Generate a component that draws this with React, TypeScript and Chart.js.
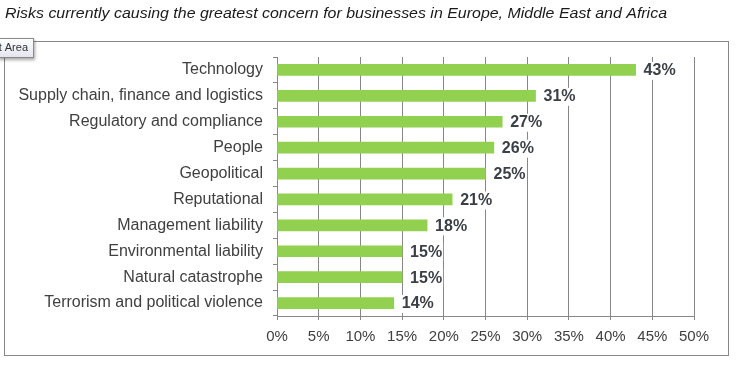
import React, { useEffect, useRef } from "react";
import { Chart, registerables } from "chart.js";

Chart.register(...registerables);

const titleText =
  "Risks currently causing the greatest concern for businesses in Europe, Middle East and Africa";
const categories = [
  "Technology",
  "Supply chain, finance and logistics",
  "Regulatory and compliance",
  "People",
  "Geopolitical",
  "Reputational",
  "Management liability",
  "Environmental liability",
  "Natural catastrophe",
  "Terrorism and political violence",
];
const values = [43, 31, 27, 26, 25, 21, 18, 15, 15, 14];
const xMin = 0;
const xMax = 50;
const xStep = 5;

const FONT = "Arial, 'Liberation Sans', sans-serif";
const GRID = "#878787";
const TEXT = "#404040";

const decorPlugin = {
  id: "decor",
  beforeDraw(chart: any) {
    const ctx = chart.ctx;
    ctx.save();
    ctx.fillStyle = "#ffffff";
    ctx.fillRect(0, 0, chart.width, chart.height);
    // title
    ctx.fillStyle = "#1a1a1a";
    ctx.font = `italic 15px ${FONT}`;
    ctx.textBaseline = "middle";
    ctx.textAlign = "left";
    const w = ctx.measureText(titleText).width;
    const target = 662;
    ctx.translate(5, 14);
    ctx.scale(target / w, 1);
    ctx.fillText(titleText, 0, 0);
    ctx.restore();
    // outer border
    ctx.save();
    ctx.strokeStyle = GRID;
    ctx.lineWidth = 1;
    ctx.strokeRect(4.5, 41.5, 724, 314);
    ctx.restore();
  },
  afterDatasetsDraw(chart: any) {
    const ctx = chart.ctx;
    const meta = chart.getDatasetMeta(0);
    ctx.save();
    ctx.font = `bold 16px ${FONT}`;
    ctx.textBaseline = "middle";
    ctx.textAlign = "left";
    meta.data.forEach((bar: any, i: number) => {
      const label = values[i] + "%";
      const x = bar.x + 8;
      const y = bar.y + 1;
      const tw = ctx.measureText(label).width;
      ctx.fillStyle = "#ffffff";
      ctx.fillRect(x - 1, y - 9, tw + 2, 18);
      ctx.fillStyle = "#3b3f46";
      ctx.fillText(label, x, y);
    });
    ctx.restore();
  },
  afterDraw(chart: any) {
    const ctx = chart.ctx;
    ctx.save();
    // "Chart Area" tooltip box
    ctx.shadowColor = "rgba(0,0,0,0.35)";
    ctx.shadowBlur = 3;
    ctx.shadowOffsetX = 1;
    ctx.shadowOffsetY = 2;
    const g = ctx.createLinearGradient(0, 38, 0, 57);
    g.addColorStop(0, "#ffffff");
    g.addColorStop(1, "#e4e5f0");
    ctx.fillStyle = g;
    ctx.fillRect(-2, 38, 36, 20);
    ctx.shadowColor = "transparent";
    ctx.strokeStyle = "#8a8a8a";
    ctx.lineWidth = 1;
    ctx.strokeRect(-1.5, 38.5, 35, 19);
    ctx.fillStyle = "#333333";
    ctx.font = `11px ${FONT}`;
    ctx.textAlign = "right";
    ctx.textBaseline = "middle";
    ctx.fillText("Chart Area", 28, 48);
    ctx.restore();
  },
};

export default function App() {
  const ref = useRef<HTMLCanvasElement>(null);
  useEffect(() => {
    document.body.style.margin = "0";
    const chart = new Chart(ref.current as HTMLCanvasElement, {
      type: "bar",
      data: {
        labels: categories,
        datasets: [
          {
            data: values,
            backgroundColor: "#92D050",
            borderWidth: 0,
            barThickness: 11,
          },
        ],
      },
      options: {
        indexAxis: "y",
        responsive: false,
        animation: false,
        devicePixelRatio: 1,
        layout: { padding: { top: 57, right: 42, left: 0, bottom: 0 } },
        plugins: {
          legend: { display: false },
          title: { display: false },
          tooltip: { enabled: false },
        },
        scales: {
          x: {
            min: xMin,
            max: xMax,
            afterFit(scale: any) {
              scale.height = 50;
            },
            ticks: {
              stepSize: xStep,
              color: TEXT,
              font: { family: FONT, size: 15 },
              padding: 8,
              maxRotation: 0,
              callback: (v: any) => v + "%",
            },
            grid: {
              color: GRID,
              lineWidth: 1,
              tickLength: 4,
              drawOnChartArea: true,
            },
            border: { display: true, color: GRID, width: 1 },
          },
          y: {
            afterFit(scale: any) {
              scale.width = 277;
            },
            ticks: {
              color: TEXT,
              font: { family: FONT, size: 16 },
              padding: 10,
              autoSkip: false,
            },
            grid: {
              color: GRID,
              tickLength: 4,
              drawOnChartArea: false,
              offset: true,
            },
            border: { display: true, color: GRID, width: 1 },
          },
        },
      },
      plugins: [decorPlugin],
    } as any);
    return () => chart.destroy();
  }, []);
  return (
    <div style={{ width: 736, height: 366 }}>
      <canvas ref={ref} width={736} height={366} style={{ display: "block" }} />
    </div>
  );
}
